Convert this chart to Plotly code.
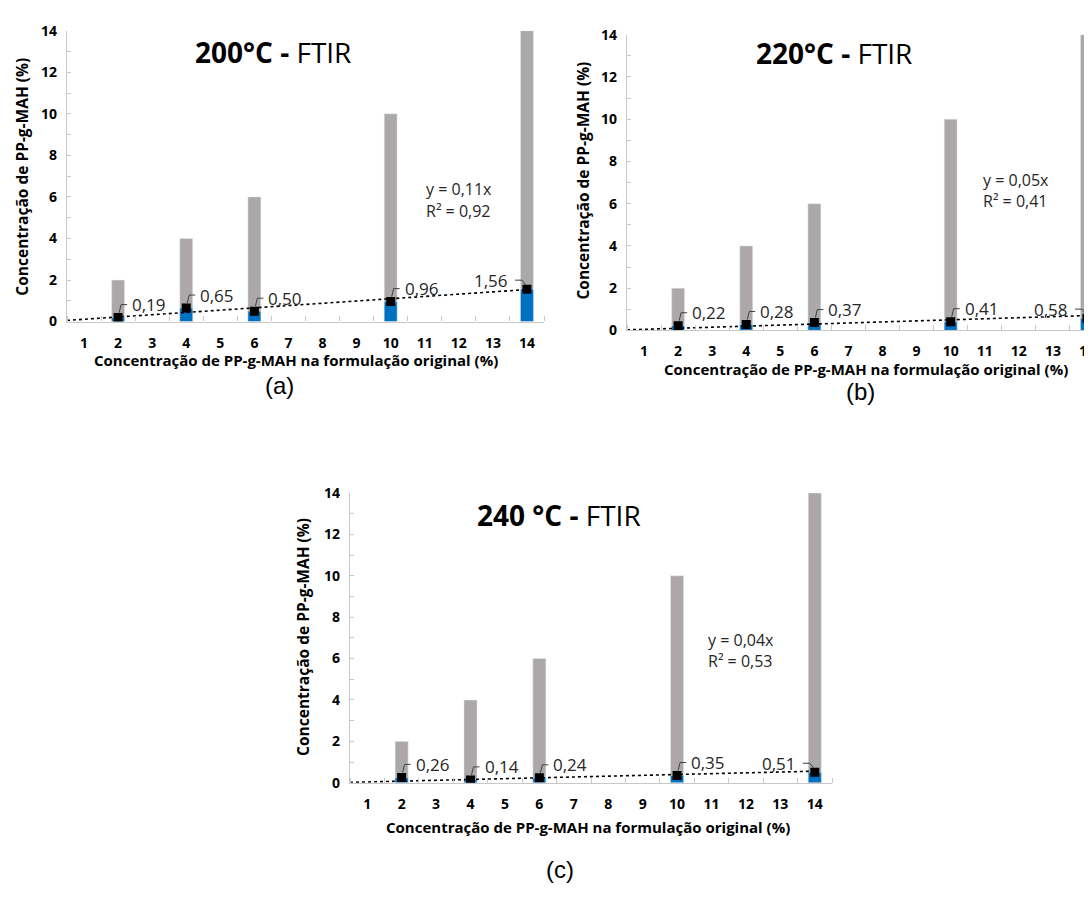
import plotly.graph_objects as go

# ---------------- data ----------------
categories = list(range(1, 15))                 # x axis categories 1..14
x_points = [2, 4, 6, 10, 14]                     # formulations with data
nominal = [2, 4, 6, 10, 14]                      # original PP-g-MAH concentration (gray bars)
measured_200 = [0.19, 0.65, 0.50, 0.96, 1.56]    # FTIR 200 °C
measured_220 = [0.22, 0.28, 0.37, 0.41, 0.58]    # FTIR 220 °C
measured_240 = [0.26, 0.14, 0.24, 0.35, 0.51]    # FTIR 240 °C
slopes = [0.11, 0.05, 0.04]
r2_values = ["0,92", "0,41", "0,53"]
slope_labels = ["0,11", "0,05", "0,04"]
titles_bold = ["200°C -", "220°C -", "240 °C -"]
captions = ["(a)", "(b)", "(c)"]
y_title = "Concentração de PP-g-MAH (%)"
x_title = "Concentração de PP-g-MAH na formulação original (%)"

W, H = 1100, 915
OFF = 8          # page body margin
GRAY = "#ACA8A8"
BLUE = "#0070C0"
AXC = "#C8C8C8"
FONT = "Open Sans"

def fmt(v):
    return f"{v:.2f}".replace(".", ",")

def px(x):
    return (x - OFF) / W

def py(y):
    return 1 - (y - OFF) / H

panels = [
    dict(meas=measured_200, xd=[px(67), px(544)], yd=[py(318), py(21)],
         title=(273, 43), eq=(424, 183), ytl=(22, 170), xtl=(296, 357), cap=(279, 383)),
    dict(meas=measured_220, xd=[px(627), px(1104)], yd=[py(327), py(25)],
         title=(834, 44), eq=(981, 173), ytl=(583, 174), xtl=(866, 366), cap=(860, 389)),
    dict(meas=measured_240, xd=[px(350), px(832)], yd=[py(789), py(493)],
         title=(559, 516), eq=(706, 643), ytl=(303, 640), xtl=(588, 834), cap=(560, 878)),
]
XR = [0.5, 14.5]

fig = go.Figure()
annotations = []
shapes = []

for i, p in enumerate(panels):
    n = "" if i == 0 else str(i + 1)
    xa, ya = "x" + n, "y" + n
    # gray bars: nominal concentration
    fig.add_trace(go.Bar(x=x_points, y=nominal, marker_color=GRAY, width=0.38,
                         xaxis=xa, yaxis=ya, showlegend=False))
    # blue bars: measured
    fig.add_trace(go.Bar(x=x_points, y=p["meas"], marker_color=BLUE, width=0.38,
                         xaxis=xa, yaxis=ya, showlegend=False))
    # linear trendline y = a*x (dotted)
    tx = [XR[0], 14]
    fig.add_trace(go.Scatter(x=tx, y=[slopes[i] * t for t in tx], mode="lines",
                             line=dict(color="black", width=1.6, dash="dot"),
                             xaxis=xa, yaxis=ya, showlegend=False))
    # markers
    fig.add_trace(go.Scatter(x=x_points, y=p["meas"], mode="markers",
                             marker=dict(symbol="square", size=9, color="black"),
                             xaxis=xa, yaxis=ya, showlegend=False))
    # data labels with leader lines
    for j, (xv, yv) in enumerate(zip(x_points, p["meas"])):
        last = j == len(x_points) - 1
        annotations.append(dict(
            x=xv, y=yv, xref=xa, yref=ya, text=fmt(yv), showarrow=False,
            xanchor="right" if last else "left", yanchor="middle",
            xshift=-17 if last else 12, yshift=9 if last else 13,
            font=dict(family=FONT, size=17, color="#262626")))
        path = "M -1,4 L -5,9 L -12,9" if last else "M 1,5 L 3,13 L 9,13"
        shapes.append(dict(type="path", xref=xa, yref=ya, xsizemode="pixel",
                           ysizemode="pixel", xanchor=xv, yanchor=yv, path=path,
                           line=dict(color="#404040", width=1)))
    # chart title
    annotations.append(dict(x=px(p["title"][0]), y=py(p["title"][1]), xref="paper", yref="paper",
                            text=f"<b>{titles_bold[i]}</b> FTIR", showarrow=False,
                            xanchor="center", yanchor="middle",
                            font=dict(family=FONT, size=28, color="black")))
    # equation
    annotations.append(dict(x=px(p["eq"][0]), y=py(p["eq"][1]), xref="paper", yref="paper",
                            text=f"y = {slope_labels[i]}x", showarrow=False,
                            xanchor="left", yanchor="middle",
                            font=dict(family=FONT, size=16, color="#262626")))
    annotations.append(dict(x=px(p["eq"][0]), y=py(p["eq"][1] + 22), xref="paper", yref="paper",
                            text=f"R² = {r2_values[i]}", showarrow=False,
                            xanchor="left", yanchor="middle",
                            font=dict(family=FONT, size=16, color="#262626")))
    # axis titles
    annotations.append(dict(x=px(p["ytl"][0]), y=py(p["ytl"][1]), xref="paper", yref="paper",
                            text=f"<b>{y_title}</b>", showarrow=False, textangle=-90,
                            xanchor="center", yanchor="middle",
                            font=dict(family=FONT, size=15.5, color="black")))
    annotations.append(dict(x=px(p["xtl"][0]), y=py(p["xtl"][1]), xref="paper", yref="paper",
                            text=f"<b>{x_title}</b>", showarrow=False,
                            xanchor="center", yanchor="middle",
                            font=dict(family=FONT, size=15, color="black")))
    # caption
    annotations.append(dict(x=px(p["cap"][0]), y=py(p["cap"][1]), xref="paper", yref="paper",
                            text=captions[i], showarrow=False,
                            xanchor="center", yanchor="middle",
                            font=dict(family="Liberation Sans", size=24, color="black")))

    xaxis = dict(domain=p["xd"], range=XR, anchor=ya, tickmode="array",
                 tickvals=categories, ticktext=[str(c) for c in categories],
                 ticks="", showline=True, linecolor=AXC, linewidth=1.3,
                 showgrid=False, zeroline=False, ticklabelstandoff=8,
                 tickfont=dict(family=FONT, size=14, color="black", weight="bold"),
                 minor=dict(tick0=0.5, dtick=1, ticks="inside", ticklen=5,
                            tickcolor=AXC, showgrid=False))
    yaxis = dict(domain=p["yd"], range=[0, 14], anchor=xa, dtick=2, tick0=0,
                 ticks="inside", ticklen=4, tickcolor=AXC, showline=True,
                 linecolor=AXC, linewidth=1.3, showgrid=False, zeroline=False,
                 ticklabelstandoff=6,
                 tickfont=dict(family=FONT, size=14, color="black", weight="bold"),
                 minor=dict(dtick=1, ticks="inside", ticklen=4, tickcolor=AXC, showgrid=False))
    fig.layout["xaxis" + n] = xaxis
    fig.layout["yaxis" + n] = yaxis

fig.update_layout(width=W, height=H, margin=dict(l=0, r=0, t=0, b=0),
                  paper_bgcolor="white", plot_bgcolor="white", barmode="overlay",
                  showlegend=False, annotations=annotations, shapes=shapes,
                  font=dict(family=FONT))

fig.write_html("out.html")
